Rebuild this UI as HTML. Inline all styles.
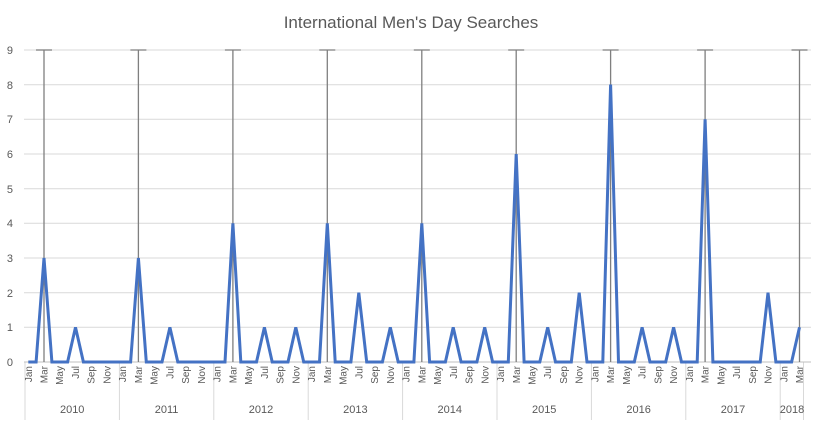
<!DOCTYPE html>
<html><head><meta charset="utf-8"><style>
html,body{margin:0;padding:0;background:#fff;}
svg{display:block;font-family:"Liberation Sans",sans-serif;}
</style></head><body>
<svg width="825" height="424" viewBox="0 0 825 424">
<text x="411" y="28" font-size="17" fill="#595959" text-anchor="middle">International Men's Day Searches</text>
<g stroke="#d9d9d9" stroke-width="1">
<line x1="24" x2="811" y1="50" y2="50"/><line x1="24" x2="811" y1="84.7" y2="84.7"/>
<line x1="24" x2="811" y1="119.3" y2="119.3"/><line x1="24" x2="811" y1="154" y2="154"/>
<line x1="24" x2="811" y1="188.7" y2="188.7"/><line x1="24" x2="811" y1="223.3" y2="223.3"/>
<line x1="24" x2="811" y1="258" y2="258"/><line x1="24" x2="811" y1="292.7" y2="292.7"/>
<line x1="24" x2="811" y1="327.3" y2="327.3"/>
<line x1="25" x2="25" y1="362" y2="420"/><line x1="119.4" x2="119.4" y1="362" y2="420"/>
<line x1="213.8" x2="213.8" y1="362" y2="420"/><line x1="308.2" x2="308.2" y1="362" y2="420"/>
<line x1="402.6" x2="402.6" y1="362" y2="420"/><line x1="497" x2="497" y1="362" y2="420"/>
<line x1="591.4" x2="591.4" y1="362" y2="420"/><line x1="685.8" x2="685.8" y1="362" y2="420"/>
<line x1="780.2" x2="780.2" y1="362" y2="420"/><line x1="803.5" x2="803.5" y1="362" y2="420"/>
</g>
<line x1="24" x2="811" y1="362" y2="362" stroke="#bfbfbf"/>
<g font-size="11" fill="#595959" text-anchor="end">
<text x="13" y="54">9</text><text x="13" y="89">8</text><text x="13" y="123">7</text>
<text x="13" y="158">6</text><text x="13" y="193">5</text><text x="13" y="227">4</text>
<text x="13" y="262">3</text><text x="13" y="297">2</text><text x="13" y="331">1</text>
<text x="13" y="366">0</text>
</g>
<g stroke="#7f7f7f" stroke-width="1.3">
<line x1="44" x2="44" y1="50" y2="362"/><line x1="36" x2="52" y1="50" y2="50"/>
<line x1="138.4" x2="138.4" y1="50" y2="362"/><line x1="130.4" x2="146.4" y1="50" y2="50"/>
<line x1="232.9" x2="232.9" y1="50" y2="362"/><line x1="224.9" x2="240.9" y1="50" y2="50"/>
<line x1="327.3" x2="327.3" y1="50" y2="362"/><line x1="319.3" x2="335.3" y1="50" y2="50"/>
<line x1="421.8" x2="421.8" y1="50" y2="362"/><line x1="413.8" x2="429.8" y1="50" y2="50"/>
<line x1="516.2" x2="516.2" y1="50" y2="362"/><line x1="508.2" x2="524.2" y1="50" y2="50"/>
<line x1="610.6" x2="610.6" y1="50" y2="362"/><line x1="602.6" x2="618.6" y1="50" y2="50"/>
<line x1="705.1" x2="705.1" y1="50" y2="362"/><line x1="697.1" x2="713.1" y1="50" y2="50"/>
<line x1="799.5" x2="799.5" y1="50" y2="362"/><line x1="791.5" x2="807.5" y1="50" y2="50"/>
</g>
<polyline fill="none" stroke="#4472c4" stroke-width="3" stroke-linejoin="miter" points="
28.3,362 36.1,362 44.0,258 51.9,362 67.6,362 75.5,327.3 83.4,362
130.6,362 138.4,258 146.3,362 162.0,362 169.9,327.3 177.8,362
225.0,362 232.9,223.3 240.8,362 256.5,362 264.4,327.3 272.2,362 288.0,362 295.8,327.3 303.7,362
319.5,362 327.3,223.3 335.2,362 350.9,362 358.8,292.7 366.7,362 382.4,362 390.3,327.3 398.2,362
413.9,362 421.8,223.3 429.6,362 445.4,362 453.2,327.3 461.1,362 476.9,362 484.7,327.3 492.6,362
508.3,362 516.2,154 524.1,362 539.8,362 547.7,327.3 555.5,362 571.3,362 579.2,292.7 587.0,362
602.8,362 610.6,84.6 618.5,362 634.3,362 642.1,327.3 650.0,362 665.7,362 673.6,327.3 681.5,362
697.2,362 705.1,119.3 712.9,362 760.2,362 768.0,292.7 775.9,362 791.6,362 799.5,327.3"/>
<g font-size="10" fill="#595959" text-anchor="end">
<text transform="translate(31.8,366) rotate(-90)">Jan</text>
<text transform="translate(47.5,366) rotate(-90)">Mar</text>
<text transform="translate(63.2,366) rotate(-90)">May</text>
<text transform="translate(79,366) rotate(-90)">Jul</text>
<text transform="translate(94.7,366) rotate(-90)">Sep</text>
<text transform="translate(110.5,366) rotate(-90)">Nov</text>
<text transform="translate(126.2,366) rotate(-90)">Jan</text>
<text transform="translate(142,366) rotate(-90)">Mar</text>
<text transform="translate(157.7,366) rotate(-90)">May</text>
<text transform="translate(173.4,366) rotate(-90)">Jul</text>
<text transform="translate(189.2,366) rotate(-90)">Sep</text>
<text transform="translate(204.9,366) rotate(-90)">Nov</text>
<text transform="translate(220.7,366) rotate(-90)">Jan</text>
<text transform="translate(236.4,366) rotate(-90)">Mar</text>
<text transform="translate(252.2,366) rotate(-90)">May</text>
<text transform="translate(267.9,366) rotate(-90)">Jul</text>
<text transform="translate(283.6,366) rotate(-90)">Sep</text>
<text transform="translate(299.4,366) rotate(-90)">Nov</text>
<text transform="translate(315.1,366) rotate(-90)">Jan</text>
<text transform="translate(330.9,366) rotate(-90)">Mar</text>
<text transform="translate(346.6,366) rotate(-90)">May</text>
<text transform="translate(362.3,366) rotate(-90)">Jul</text>
<text transform="translate(378.1,366) rotate(-90)">Sep</text>
<text transform="translate(393.8,366) rotate(-90)">Nov</text>
<text transform="translate(409.6,366) rotate(-90)">Jan</text>
<text transform="translate(425.3,366) rotate(-90)">Mar</text>
<text transform="translate(441.1,366) rotate(-90)">May</text>
<text transform="translate(456.8,366) rotate(-90)">Jul</text>
<text transform="translate(472.5,366) rotate(-90)">Sep</text>
<text transform="translate(488.3,366) rotate(-90)">Nov</text>
<text transform="translate(504,366) rotate(-90)">Jan</text>
<text transform="translate(519.8,366) rotate(-90)">Mar</text>
<text transform="translate(535.5,366) rotate(-90)">May</text>
<text transform="translate(551.2,366) rotate(-90)">Jul</text>
<text transform="translate(567,366) rotate(-90)">Sep</text>
<text transform="translate(582.7,366) rotate(-90)">Nov</text>
<text transform="translate(598.5,366) rotate(-90)">Jan</text>
<text transform="translate(614.2,366) rotate(-90)">Mar</text>
<text transform="translate(630,366) rotate(-90)">May</text>
<text transform="translate(645.7,366) rotate(-90)">Jul</text>
<text transform="translate(661.4,366) rotate(-90)">Sep</text>
<text transform="translate(677.2,366) rotate(-90)">Nov</text>
<text transform="translate(692.9,366) rotate(-90)">Jan</text>
<text transform="translate(708.7,366) rotate(-90)">Mar</text>
<text transform="translate(724.4,366) rotate(-90)">May</text>
<text transform="translate(740.2,366) rotate(-90)">Jul</text>
<text transform="translate(755.9,366) rotate(-90)">Sep</text>
<text transform="translate(771.6,366) rotate(-90)">Nov</text>
<text transform="translate(787.4,366) rotate(-90)">Jan</text>
<text transform="translate(803.1,366) rotate(-90)">Mar</text>
</g>
<g font-size="11" fill="#595959" text-anchor="middle">
<text x="72.2" y="413">2010</text><text x="166.6" y="413">2011</text>
<text x="261" y="413">2012</text><text x="355.4" y="413">2013</text>
<text x="449.8" y="413">2014</text><text x="544.2" y="413">2015</text>
<text x="638.6" y="413">2016</text><text x="733" y="413">2017</text>
<text x="792" y="413">2018</text>
</g>
</svg>
</body></html>
